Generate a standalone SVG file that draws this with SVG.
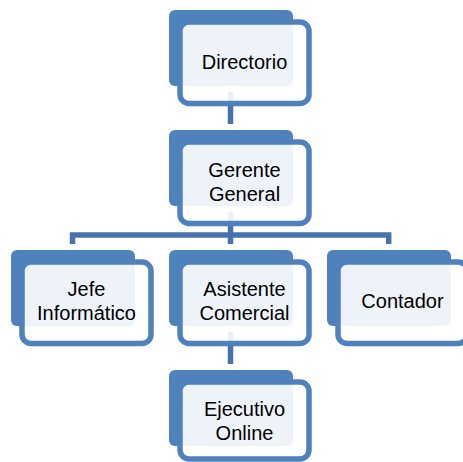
<svg xmlns="http://www.w3.org/2000/svg" width="463" height="462" viewBox="0 0 463 462">
  <style>
    .back { fill: #4F81BD; }
    .frame { fill: #FFFFFF; fill-opacity: 0.9; stroke: #4F81BD; stroke-width: 5.5; }
    .conn { fill: none; stroke: #4673AE; stroke-width: 5.5; stroke-linejoin: miter; }
    .lbl { font-family: "Liberation Sans", Arial, sans-serif; font-size: 20px; fill: #000000; text-anchor: middle; }
  </style>
  <rect width="463" height="462" fill="#FFFFFF"/>
  <g id="connectors">
    <path class="conn" d="M230.5,92 V124"/>
    <path class="conn" d="M230.5,212 V244"/>
    <path class="conn" d="M72.5,244 V235 H388.7 V244"/>
    <path class="conn" d="M230.5,332 V364"/>
  </g>
  <g id="directorio">
    <rect class="back" x="169" y="10" width="124" height="76" rx="6"/>
    <rect class="frame" x="180" y="22" width="129" height="81.5" rx="9"/>
    <text class="lbl" x="244.5" y="69">Directorio</text>
  </g>
  <g id="gerente-general">
    <rect class="back" x="169" y="130" width="124" height="76" rx="6"/>
    <rect class="frame" x="180" y="142" width="129" height="81.5" rx="9"/>
    <text class="lbl" x="244.5" y="177">Gerente</text>
    <text class="lbl" x="244.5" y="201">General</text>
  </g>
  <g id="jefe-informatico">
    <rect class="back" x="11" y="250" width="124" height="76" rx="6"/>
    <rect class="frame" x="22" y="262" width="129" height="81.5" rx="9"/>
    <text class="lbl" x="86.5" y="296">Jefe</text>
    <text class="lbl" x="86.5" y="320">Informático</text>
  </g>
  <g id="asistente-comercial">
    <rect class="back" x="169" y="250" width="124" height="76" rx="6"/>
    <rect class="frame" x="180" y="262" width="129" height="81.5" rx="9"/>
    <text class="lbl" x="244.5" y="296">Asistente</text>
    <text class="lbl" x="244.5" y="320">Comercial</text>
  </g>
  <g id="contador">
    <rect class="back" x="327" y="250" width="124" height="76" rx="6"/>
    <rect class="frame" x="338" y="262" width="129" height="81.5" rx="9"/>
    <text class="lbl" x="402.5" y="308">Contador</text>
  </g>
  <g id="ejecutivo-online">
    <rect class="back" x="169" y="370" width="124" height="76" rx="6"/>
    <rect class="frame" x="180" y="382" width="129" height="77" rx="9"/>
    <text class="lbl" x="244.5" y="416">Ejecutivo</text>
    <text class="lbl" x="244.5" y="440">Online</text>
  </g>
</svg>
